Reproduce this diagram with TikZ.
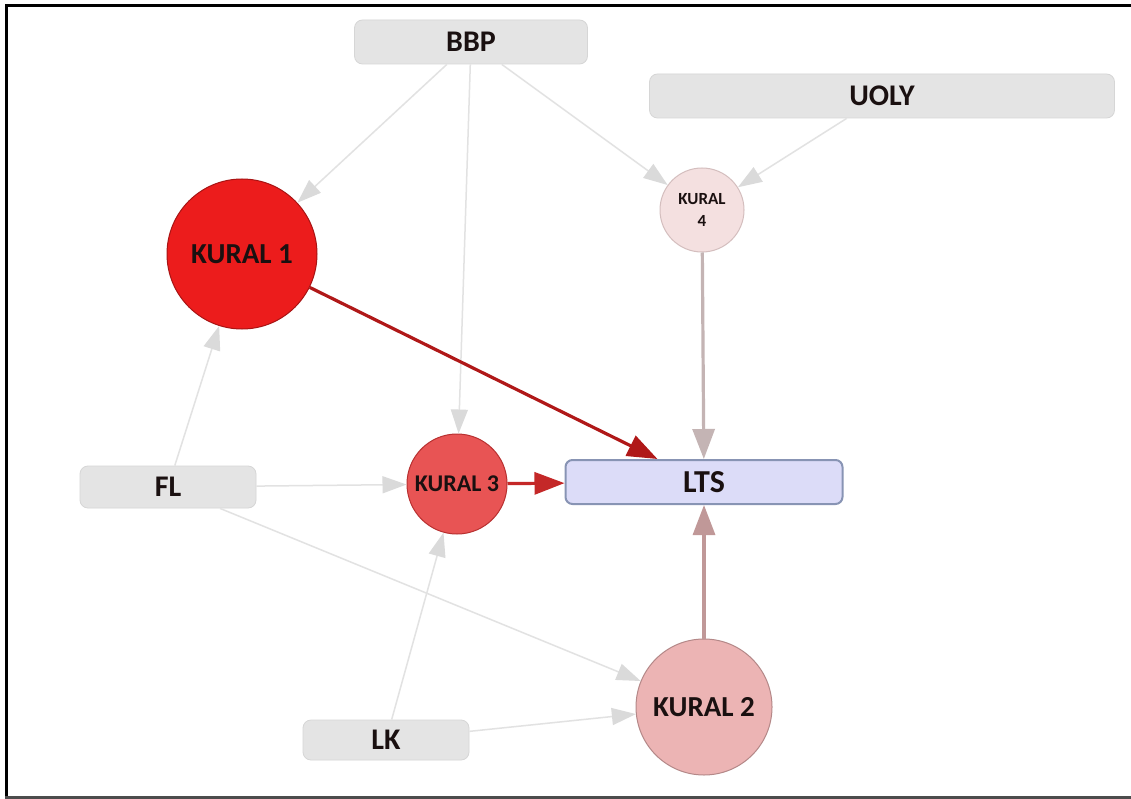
\documentclass[tikz,border=0pt]{standalone}
\usepackage{fontspec}
\setmainfont{Carlito}
\usetikzlibrary{arrows.meta}

\definecolor{boxfill}{HTML}{E4E4E4}
\definecolor{boxline}{HTML}{D6D6D6}
\definecolor{weak}{HTML}{E2E2E2}
\definecolor{weakhead}{HTML}{DADADA}
\definecolor{ink}{HTML}{1A1010}
\definecolor{kone}{HTML}{EC1C1C}
\definecolor{konel}{HTML}{A81414}
\definecolor{kthree}{HTML}{E85454}
\definecolor{kthreel}{HTML}{B83030}
\definecolor{ktwo}{HTML}{ECB4B4}
\definecolor{ktwol}{HTML}{B48888}
\definecolor{kfour}{HTML}{F4E0E0}
\definecolor{kfourl}{HTML}{D4BEBE}
\definecolor{ltsfill}{HTML}{DCDCF8}
\definecolor{ltsline}{HTML}{8894B4}
\definecolor{eone}{HTML}{B01818}
\definecolor{ethree}{HTML}{C42828}
\definecolor{efour}{HTML}{C4B4B4}
\definecolor{etwo}{HTML}{C09898}

\tikzset{
  inbox/.style={rectangle, rounded corners=8pt, fill=boxfill, draw=boxline,
    line width=0.8pt, text=ink, font=\bfseries\fontsize{30}{32}\selectfont,
    inner sep=0pt},
  kcircle/.style={circle, inner sep=0pt, line width=1pt, text=ink,
    font=\bfseries\fontsize{29}{31}\selectfont},
  weakedge/.style={draw=weak, line width=1.5pt,
    -{Triangle[length=24pt,width=17pt,fill=weakhead,color=weakhead]}},
  strongedge/.style={line width=3.2pt,
    -{Triangle[length=30pt,width=22pt]}},
}

\begin{document}
\begin{tikzpicture}[x=1pt,y=-1pt]
  \useasboundingbox (0,0) rectangle (1131,799);
  \fill[white] (0,0) rectangle (1131,799);

  % frame
  \draw[black, line width=3pt] (6,799) -- (6,6) -- (1131,6);
  \draw[black!70, line width=2.5pt] (5,797.5) -- (1131,797.5);

  % input boxes
  \node[inbox, minimum width=233pt, minimum height=44pt] (bbp) at (471,42) {BBP};
  \node[inbox, minimum width=465pt, minimum height=44pt] (uoly) at (882,96) {UOLY};
  \node[inbox, minimum width=176pt, minimum height=42pt] (fl) at (168,487) {FL};
  \node[inbox, minimum width=166pt, minimum height=40pt] (lk) at (386,740) {LK};

  % rule circles
  \node[kcircle, minimum size=150pt, fill=kone, draw=konel] (k1) at (242,254) {KURAL 1};
  \node[kcircle, minimum size=100pt, fill=kthree, draw=kthreel,
        font=\bfseries\fontsize{24}{26}\selectfont] (k3) at (457,484) {KURAL 3};
  \node[kcircle, minimum size=136pt, fill=ktwo, draw=ktwol] (k2) at (704,707) {KURAL 2};
  \node[kcircle, minimum size=84pt, fill=kfour, draw=kfourl, align=center,
        font=\bfseries\fontsize{17}{22}\selectfont] (k4) at (702,210) {KURAL\\4};

  % output
  \node[rectangle, rounded corners=7pt, fill=ltsfill, draw=ltsline, line width=2pt,
        minimum width=277pt, minimum height=44pt, text=ink,
        font=\bfseries\fontsize{32}{34}\selectfont] (lts) at (704,482) {LTS};

  % weak links
  \draw[weakedge] (bbp) -- (k1);
  \draw[weakedge] (bbp) -- (k3);
  \draw[weakedge] (bbp) -- (k4);
  \draw[weakedge] (uoly) -- (k4);
  \draw[weakedge] (fl) -- (k1);
  \draw[weakedge] (fl) -- (k3);
  \draw[weakedge] (fl) -- (k2);
  \draw[weakedge] (lk) -- (k3);
  \draw[weakedge] (lk) -- (k2);

  % links into LTS
  \draw[strongedge, color=eone] (k1) -- (lts);
  \draw[strongedge, color=ethree] (k3) -- (lts);
  \draw[strongedge, color=efour] (k4) -- (lts);
  \draw[strongedge, color=etwo] (k2) -- (lts);
\end{tikzpicture}
\end{document}
